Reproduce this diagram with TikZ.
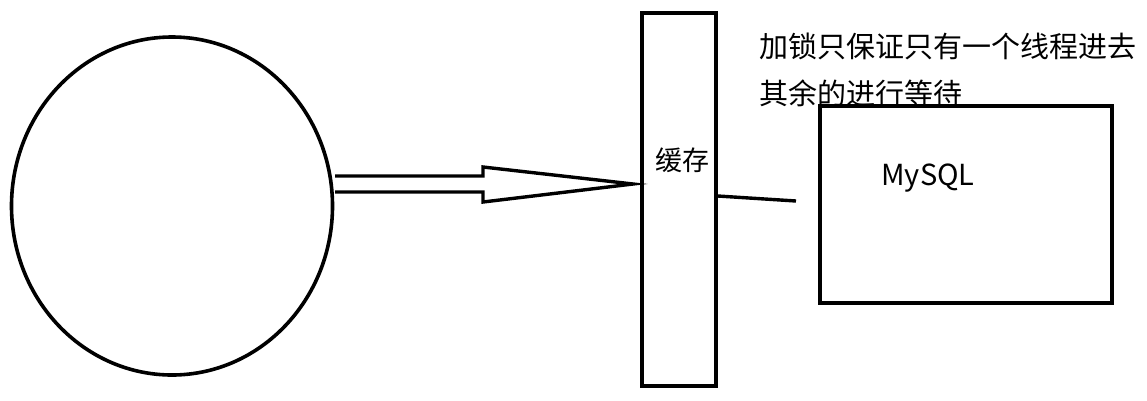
\documentclass[tikz,border=0pt]{standalone}
\usepackage{fontspec}
\newfontfamily\cjk{Noto Sans CJK SC}
\usetikzlibrary{shapes.geometric,calc}
\tikzset{
  stroke/.style={draw=black, line width=3.6pt},
  lbl/.style={font=\cjk, inner sep=0pt, anchor=west},
}
\begin{document}
\begin{tikzpicture}[x=1pt,y=-1pt]
\useasboundingbox[fill=white] (0,0) rectangle (1147,400);
\node[stroke, ellipse, minimum width=321pt, minimum height=338pt, inner sep=0pt] (ell) at (172,206) {};
\node[stroke, rectangle, minimum width=74pt, minimum height=373pt, inner sep=0pt] (cache) at (679,199.5) {};
\node[stroke, rectangle, minimum width=292pt, minimum height=197pt, inner sep=0pt] (db) at (966,204.5) {};
\node[lbl, font=\cjk\fontsize{27}{27}\selectfont] (ct) at (655,160) {缓存};
\node[font=\cjk\fontsize{29}{29}\selectfont, inner sep=0pt] (ms) at (928,178) {MySQL};
\node[lbl, font=\cjk\fontsize{29}{29}\selectfont] (t1) at (759,46) {加锁只保证只有一个线程进去};
\node[lbl, font=\cjk\fontsize{29}{29}\selectfont] (t2) at (759,93) {其余的进行等待};
\draw[line width=3.4pt, line join=miter] (335,176) -- (483,176) -- (483,167) -- (633,184) -- (483,202) -- (483,192) -- (335,192);
\coordinate (lend) at (796,201);
\draw[line width=3.4pt] (cache.east |- 0,196) -- (lend);
\end{tikzpicture}
\end{document}
